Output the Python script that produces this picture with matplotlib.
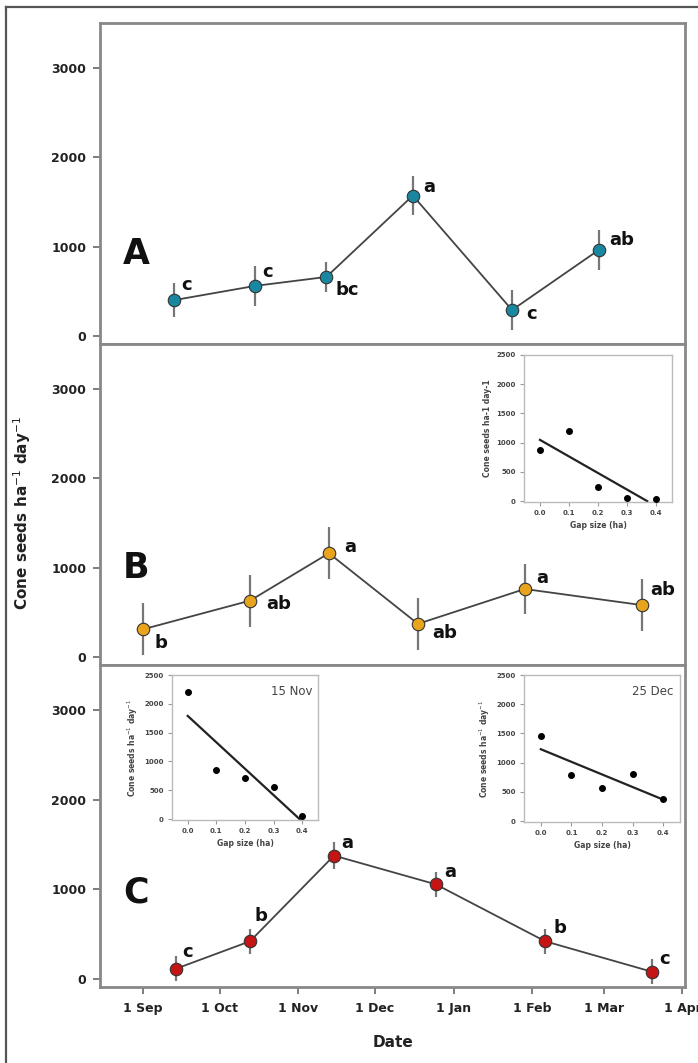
import datetime as dt
import numpy as np
import matplotlib
matplotlib.use('Agg')
import matplotlib.pyplot as plt
import matplotlib.dates as mdates
from matplotlib.lines import Line2D

plt.rcParams['font.family'] = ['DejaVu Sans']

# main series (cone seeds ha-1 day-1)
A_dates = ['2006-09-13', '2006-10-15', '2006-11-12', '2006-12-16', '2007-01-24', '2007-02-27']
A_mean = [400, 560, 660, 1570, 290, 960]
A_err = [190, 220, 170, 220, 220, 220]
A_letters = ['c', 'c', 'bc', 'a', 'c', 'ab']

B_dates = ['2006-09-01', '2006-10-13', '2006-11-13', '2006-12-18', '2007-01-29', '2007-03-16']
B_mean = [310, 630, 1160, 370, 760, 580]
B_err = [290, 290, 290, 290, 280, 290]
B_letters = ['b', 'ab', 'a', 'ab', 'a', 'ab']

C_dates = ['2006-09-14', '2006-10-13', '2006-11-15', '2006-12-25', '2007-02-06', '2007-03-20']
C_mean = [115, 420, 1375, 1055, 420, 80]
C_err = [140, 140, 150, 140, 140, 140]
C_letters = ['c', 'b', 'a', 'a', 'b', 'c']

# insets: seeds vs gap size
gap = [0.0, 0.1, 0.2, 0.3, 0.4]
B_gap = [880, 1200, 235, 55, 35]
C_nov = [2200, 845, 715, 555, 55]
C_dec = [1460, 785, 570, 810, 370]

tick_dates = ['2006-09-01', '2006-10-01', '2006-11-01', '2006-12-01',
              '2007-01-01', '2007-02-01', '2007-03-01', '2007-04-01']
tick_labels = ['1 Sep', '1 Oct', '1 Nov', '1 Dec', '1 Jan', '1 Feb', '1 Mar', '1 Apr']

W, H = 698, 1063
fig = plt.figure(figsize=(W / 100, H / 100), dpi=100)


def px_axes(l, t, r, b):
    return fig.add_axes([l / W, 1 - b / H, (r - l) / W, (b - t) / H])


def d(s):
    return dt.datetime.strptime(s, '%Y-%m-%d')


# outer frame
fig.add_artist(Line2D([6 / W, 1.0], [1 - 7 / H, 1 - 7 / H], color='#555555', lw=1.6,
                      transform=fig.transFigure))
fig.add_artist(Line2D([6 / W, 6 / W], [0, 1 - 7 / H], color='#555555', lw=1.6,
                      transform=fig.transFigure))

panels = [
    ('A', A_dates, A_mean, A_err, A_letters, '#1a87a0', 23, 344,
     [(7, 15), (7, 14), (9, -13), (10, 9), (14, -4), (11, 10)], 920),
    ('B', B_dates, B_mean, B_err, B_letters, '#e8a41c', 344, 665,
     [(11, -14), (16, -3), (15, 6), (14, -9), (11, 11), (8, 15)], 1000),
    ('C', C_dates, C_mean, C_err, C_letters, '#c41414', 665, 987,
     [(6, 17), (4, 25), (7, 13), (9, 12), (8, 13), (7, 13)], 965),
]

axes = []
for name, dates, mean, err, letters, col, top, bot, offs, ly in panels:
    ax = px_axes(100, top, 685, bot)
    x = [d(s) for s in dates]
    ax.errorbar(x, mean, yerr=err, fmt='none', ecolor='#777777', elinewidth=1.6,
                capsize=0, zorder=2)
    ax.plot(x, mean, color='#444444', lw=1.3, zorder=3)
    ax.plot(x, mean, 'o', ms=9, mfc=col, mec='#333333', mew=0.8, zorder=4)
    for xi, yi, lab, (dx, dy) in zip(x, mean, letters, offs):
        ax.annotate(lab, (xi, yi), xytext=(dx, dy), textcoords='offset pixels',
                    ha='left', va='center', fontsize=13, fontweight='bold', color='#111111')
    ax.text(d('2006-08-24'), ly, name, fontsize=25, fontweight='bold',
            ha='left', va='center', color='#111111')
    ax.set_xlim(d('2006-08-15'), d('2007-04-02'))
    ax.set_ylim(-90, 3500)
    ax.set_yticks([0, 1000, 2000, 3000])
    ax.tick_params(axis='y', direction='out', length=5, width=1.2, color='#666666',
                   labelsize=9, labelcolor='#222222', pad=5)
    for lab in ax.get_yticklabels():
        lab.set_fontweight('bold')
    for sp in ax.spines.values():
        sp.set_color('#888888')
        sp.set_linewidth(2)
    ax.set_xticks([])
    axes.append(ax)

axC = axes[2]
axC.set_xticks([d(s) for s in tick_dates])
axC.set_xticklabels(tick_labels, fontsize=9, fontweight='bold', color='#222222')
axC.tick_params(axis='x', direction='out', length=5, width=1.2, color='#666666', pad=6)
axC.set_xlabel('Date', fontsize=11, fontweight='bold', color='#222222', labelpad=14)

fig.text(22 / W, 1 - 513 / H, 'Cone seeds ha$^{-1}$ day$^{-1}$', rotation=90,
         ha='center', va='center', fontsize=11, fontweight='bold', color='#222222')


def inset(l, t, r, b, vals, ylab, tag=None):
    ia = px_axes(l, t, r, b)
    ia.plot(gap, vals, 'o', color='black', ms=4, zorder=3)
    k, c0 = np.polyfit(gap, vals, 1)
    xend = min(max(gap), -c0 / k) if k < 0 else max(gap)
    ia.plot([0, xend], [c0, c0 + k * xend], color='#222222', lw=1.6)
    ia.set_xlim(-0.055, 0.455)
    ia.set_ylim(-15, 2500)
    ia.set_xticks(gap)
    ia.set_xticklabels(['%.1f' % g for g in gap])
    ia.set_yticks([0, 500, 1000, 1500, 2000, 2500])
    ia.tick_params(direction='out', length=3, width=0.8, color='#999999',
                   labelsize=5, labelcolor='#444444', pad=3)
    for lab in ia.get_xticklabels() + ia.get_yticklabels():
        lab.set_fontweight('bold')
    for sp in ia.spines.values():
        sp.set_color('#bbbbbb')
        sp.set_linewidth(1)
    ia.set_xlabel('Gap size (ha)', fontsize=5.5, fontweight='bold', color='#444444', labelpad=3)
    ia.set_ylabel(ylab, fontsize=5.5, fontweight='bold', color='#444444', labelpad=3)
    if tag:
        ia.text(0.96, 0.93, tag, transform=ia.transAxes, ha='right', va='top',
                fontsize=8.5, color='#444444')
    return ia


inset(524, 355, 672, 502, B_gap, 'Cone seeds ha-1 day-1')
inset(172, 675, 318, 820, C_nov, 'Cone seeds ha$^{-1}$ day$^{-1}$', '15 Nov')
inset(524, 675, 680, 822, C_dec, 'Cone seeds ha$^{-1}$ day$^{-1}$', '25 Dec')

fig.savefig('out.png', dpi=100, facecolor='white')
